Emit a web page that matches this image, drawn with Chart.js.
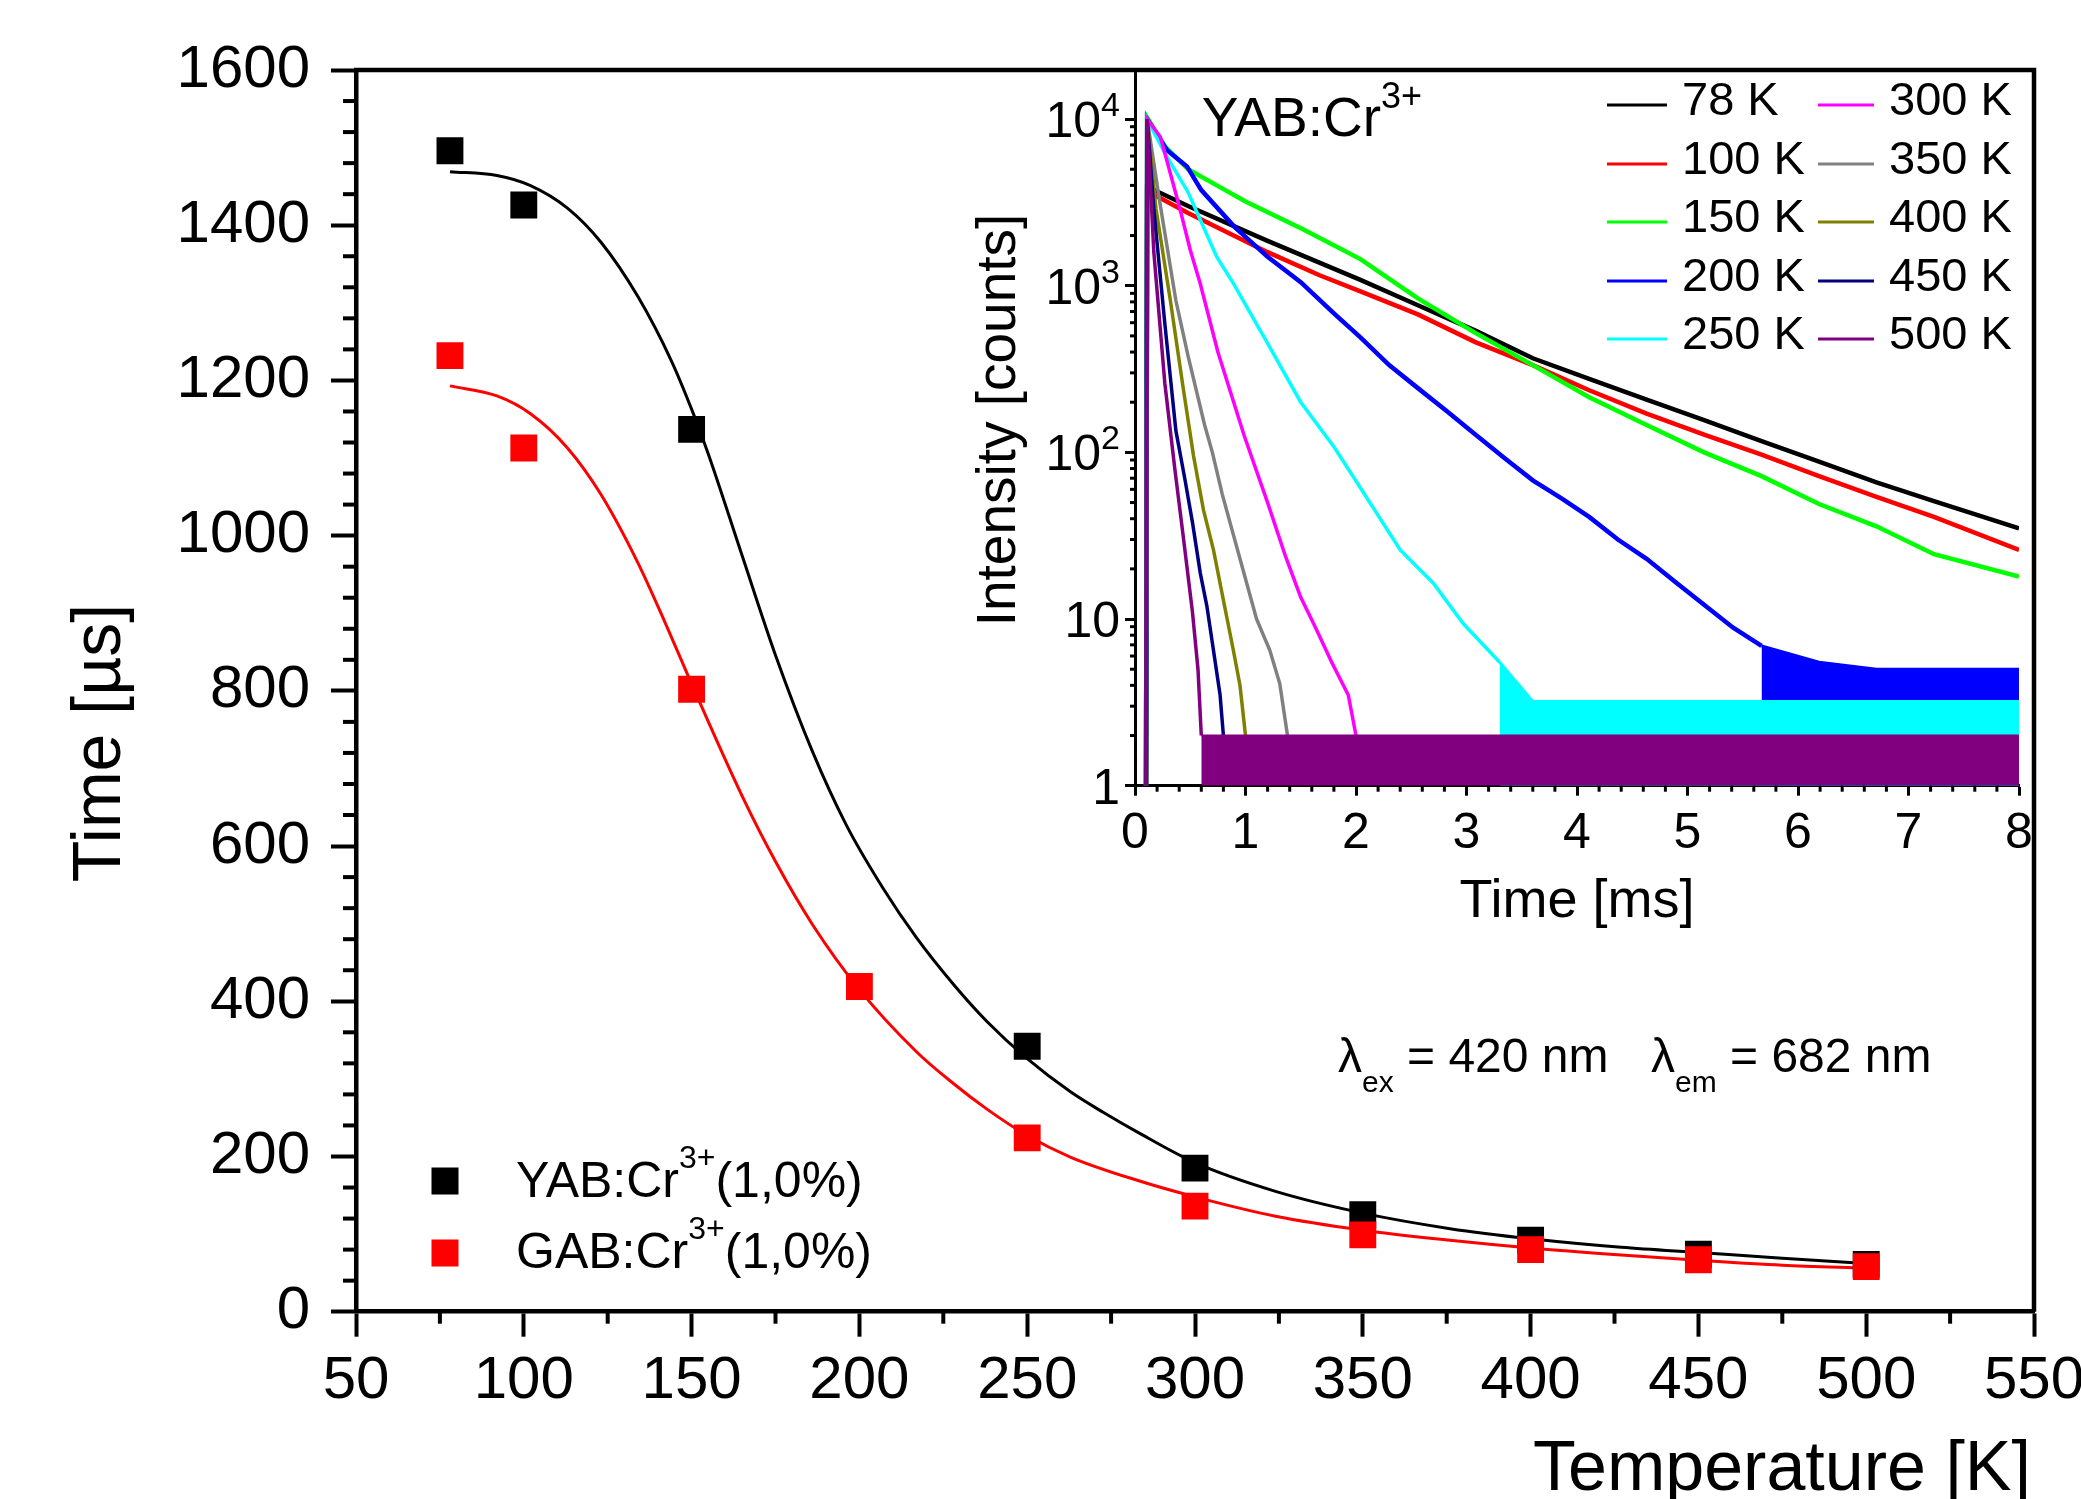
<!DOCTYPE html>
<html><head><meta charset="utf-8">
<script src="https://cdn.jsdelivr.net/npm/chart.js@4/dist/chart.umd.min.js"></script>
<style>
html,body{margin:0;padding:0;background:#fff;}
#wrap{position:relative;width:2081px;height:1499px;overflow:hidden;background:#fff;}
#main{position:absolute;left:0;top:0;}
#inset{position:absolute;left:900px;top:60px;}
</style></head><body>
<div id="wrap"><canvas id="main" width="2081" height="1499"></canvas><canvas id="inset" width="1181" height="900"></canvas></div>
<script>
// ---------------- main chart data ----------------
const temps  = [78, 100, 150, 200, 250, 300, 350, 400, 450, 500];
const yabTau = [1496, 1426, 1137, null, 342, 185, 125, 92, 74, 61];
const gabTau = [1232, 1113, 802, 419, 224, 136, 99, 80, 67, 58];
const yabFitT = [78, 92, 102, 113, 123, 134, 144, 150, 155, 165, 175, 186, 196, 207, 217, 228, 238, 250, 263, 273, 283, 300, 324, 350, 376, 400, 427, 451, 475, 500];
const yabFitV = [1469, 1464, 1451, 1422, 1378, 1308, 1225, 1163, 1105, 975, 846, 722, 628, 546, 482, 422, 374, 326, 283, 256, 231, 192, 155, 127, 107, 94, 83, 76, 69, 62];
const gabFitT = [78, 92, 102, 113, 123, 134, 142, 150, 165, 175, 186, 200, 217, 228, 238, 250, 263, 283, 300, 324, 350, 376, 400, 427, 451, 475, 500];
const gabFitV = [1193, 1180, 1157, 1113, 1053, 965, 889, 809, 665, 580, 499, 415, 335, 294, 261, 227, 199, 169, 148, 123, 105, 92, 82, 73, 66, 60, 56];
const xTickStep = 50, yTickStep = 200;

// ---------------- inset data (time ms, counts) ----------------
const t78  = [0.10, 0.11, 0.13, 0.48, 1.20, 2.04, 2.56, 3.08, 3.60, 4.11, 4.63, 5.15, 5.67, 6.19, 6.71, 7.23, 8.00];
const c78  = [1, 3900, 3870, 3010, 1860, 1085, 764, 538, 367, 276, 207, 156, 117, 88, 66, 51, 35];
const t100 = [0.10, 0.11, 0.13, 0.48, 1.20, 1.67, 2.04, 2.56, 3.08, 3.60, 4.11, 4.63, 5.15, 5.67, 6.19, 6.71, 7.23, 8.00];
const c100 = [1, 3700, 3640, 2730, 1590, 1156, 925, 673, 459, 334, 236, 171, 128, 97, 72, 54, 41, 26];
const t150 = [0.10, 0.11, 0.27, 0.48, 0.74, 1.00, 1.52, 2.04, 2.56, 3.08, 3.60, 4.11, 4.63, 5.15, 5.67, 6.19, 6.71, 7.23, 8.00];
const c150 = [1, 10200, 6870, 5000, 4000, 3200, 2180, 1445, 840, 521, 334, 214, 146, 100, 72, 49, 36, 24.5, 18];
const t200 = [0.10, 0.11, 0.29, 0.47, 0.60, 0.90, 1.20, 1.50, 1.80, 2.04, 2.30, 2.56, 2.82, 3.08, 3.34, 3.60, 3.86, 4.11, 4.37, 4.63, 4.89, 5.15, 5.41, 5.67];
const c200 = [1, 10000, 6500, 5200, 3750, 2255, 1490, 1050, 682, 490, 334, 243, 177, 128, 93, 68, 53, 41, 30, 23, 16.7, 12.2, 8.9, 6.9];
const t200tail = [5.67, 6.19, 6.71, 8.00];
const c200tail = [6.9, 5.5, 5, 5];
const t250 = [0.10, 0.11, 0.27, 0.48, 0.74, 0.89, 1.20, 1.50, 1.80, 2.07, 2.40, 2.70, 2.97, 3.30];
const c250 = [1, 10000, 6250, 3640, 1490, 1033, 451, 200, 108, 57, 26, 16.4, 9.4, 5.5];
const t250tail = [3.30, 3.60, 8.00];
const c250tail = [5.5, 3.2, 3.2];
const t300 = [0.10, 0.11, 0.23, 0.32, 0.41, 0.50, 0.59, 0.75, 0.99, 1.20, 1.36, 1.50, 1.63, 1.78, 1.93, 2.00];
const c300 = [1, 10000, 7800, 4720, 2840, 1640, 1030, 400, 125, 50, 24, 13.5, 9, 5.5, 3.5, 2];
const t350 = [0.10, 0.11, 0.22, 0.37, 0.48, 0.63, 0.70, 0.79, 0.95, 1.10, 1.22, 1.31, 1.38];
const c350 = [1, 10000, 3300, 815, 380, 146, 100, 56, 23, 10, 6.5, 4.1, 2];
const t400 = [0.10, 0.11, 0.19, 0.32, 0.43, 0.53, 0.62, 0.71, 0.80, 0.89, 0.95, 1.00];
const c400 = [1, 10000, 2900, 815, 259, 95, 45, 26, 13, 6.5, 4, 2];
const t450 = [0.10, 0.11, 0.17, 0.27, 0.37, 0.45, 0.52, 0.59, 0.65, 0.71, 0.77, 0.80];
const c450 = [1, 10000, 2900, 593, 135, 70, 38, 19, 12, 6.5, 3.5, 2];
const t500 = [0.10, 0.11, 0.17, 0.27, 0.36, 0.44, 0.52, 0.57, 0.60];
const c500 = [1, 10000, 1600, 260, 80, 30, 11, 5, 2];
const tFloor = [0.60, 8.00];
const cFloor = [2, 2];

const insetLabels = ['78 K', '100 K', '150 K', '200 K', '250 K', '300 K', '350 K', '400 K', '450 K', '500 K'];
const insetColors = ['#000000', '#ff0000', '#00ff00', '#0000ff', '#00ffff', '#ff00ff', '#808080', '#808000', '#000080', '#800080'];
const insetYTicks = [1, 10, 100, 1000, 10000];
const insetYTickLabels = [['1', ''], ['10', ''], ['10', '2'], ['10', '3'], ['10', '4']];

const FONT = "'Liberation Sans', Arial, Helvetica, sans-serif";
Chart.defaults.font.family = FONT;

const pts = (xs, ys) => xs.map((x, i) => ({ x: x, y: ys[i] })).filter(p => p.y !== null);

function seg(ctx, x1, y1, x2, y2) { ctx.beginPath(); ctx.moveTo(x1, y1); ctx.lineTo(x2, y2); ctx.stroke(); }
function richText(ctx, x, y, parts) {
  let cx = x;
  for (const p of parts) {
    ctx.font = p.size + 'px ' + FONT;
    ctx.fillText(p.text, cx, y + (p.dy || 0));
    cx += ctx.measureText(p.text).width;
  }
  return cx;
}
function richWidth(ctx, parts) {
  let w = 0;
  for (const p of parts) { ctx.font = p.size + 'px ' + FONT; w += ctx.measureText(p.text).width; }
  return w;
}

// ---------------- main chart ----------------
const mainDecor = {
  id: 'mainDecor',
  afterDraw(chart) {
    const ctx = chart.ctx, a = chart.chartArea, xs = chart.scales.x, ys = chart.scales.y;
    ctx.save();
    ctx.strokeStyle = '#000'; ctx.fillStyle = '#000';
    ctx.lineWidth = 4.5; ctx.lineJoin = 'miter';
    ctx.beginPath(); ctx.moveTo(a.left - 2, a.top); ctx.lineTo(a.right, a.top); ctx.lineTo(a.right, a.bottom); ctx.stroke();
    ctx.lineWidth = 4;
    for (let v = xs.min + xTickStep / 2; v < xs.max; v += xTickStep) {
      const px = xs.getPixelForValue(v); seg(ctx, px, a.bottom, px, a.bottom + 12);
    }
    for (let i = 1; i < 40; i++) {
      if (i % 5 === 0) continue;
      const py = ys.getPixelForValue(i * 40); seg(ctx, a.left - 13, py, a.left, py);
    }
    // axis titles
    ctx.textBaseline = 'alphabetic';
    ctx.font = '68px ' + FONT; ctx.textAlign = 'center';
    ctx.save(); ctx.translate(120, 743); ctx.rotate(-Math.PI / 2); ctx.fillText('Time [µs]', 0, 0); ctx.restore();
    ctx.font = '70px ' + FONT; ctx.textAlign = 'right';
    ctx.fillText('Temperature [K]', 2031, 1490);
    // legend
    ctx.textAlign = 'left';
    ctx.fillStyle = '#000'; ctx.fillRect(431.5, 1167.5, 27, 27);
    ctx.fillStyle = '#ff0000'; ctx.fillRect(431.5, 1239.5, 27, 27);
    ctx.fillStyle = '#000';
    richText(ctx, 516, 1197, [{ text: 'YAB:Cr', size: 50 }, { text: '3+', size: 32, dy: -29 }, { text: '(1,0%)', size: 50 }]);
    richText(ctx, 516, 1268, [{ text: 'GAB:Cr', size: 50 }, { text: '3+', size: 32, dy: -29 }, { text: '(1,0%)', size: 50 }]);
    // wavelengths
    richText(ctx, 1338, 1072, [{ text: 'λ', size: 48 }, { text: 'ex', size: 30, dy: 20 }, { text: ' = 420 nm', size: 48 }]);
    richText(ctx, 1651, 1072, [{ text: 'λ', size: 48 }, { text: 'em', size: 30, dy: 20 }, { text: ' = 682 nm', size: 48 }]);
    ctx.restore();
  }
};

new Chart(document.getElementById('main'), {
  type: 'line',
  data: {
    datasets: [
      { label: 'YAB fit', data: pts(yabFitT, yabFitV), showLine: true, borderColor: '#000', borderWidth: 3, pointRadius: 0, cubicInterpolationMode: 'monotone', fill: false, order: 4 },
      { label: 'GAB fit', data: pts(gabFitT, gabFitV), showLine: true, borderColor: '#ff0000', borderWidth: 3, pointRadius: 0, cubicInterpolationMode: 'monotone', fill: false, order: 3 },
      { label: 'YAB:Cr3+(1,0%)', data: pts(temps, yabTau), showLine: false, pointStyle: 'rect', pointRadius: 19, pointBackgroundColor: '#000', pointBorderWidth: 0, borderColor: '#000', order: 2 },
      { label: 'GAB:Cr3+(1,0%)', data: pts(temps, gabTau), showLine: false, pointStyle: 'rect', pointRadius: 19, pointBackgroundColor: '#ff0000', pointBorderWidth: 0, borderColor: '#ff0000', order: 1 }
    ]
  },
  options: {
    responsive: false, animation: false, devicePixelRatio: 1,
    layout: { padding: { left: 0, top: 70, right: 47, bottom: 0 } },
    plugins: { legend: { display: false }, tooltip: { enabled: false } },
    scales: {
      x: {
        type: 'linear', position: 'bottom', min: 50, max: 550,
        ticks: { stepSize: xTickStep, autoSkip: false, maxRotation: 0, color: '#000', font: { size: 60, family: FONT }, padding: 9, callback: v => String(v) },
        grid: { drawOnChartArea: false, drawTicks: true, tickLength: 25, tickWidth: 4, tickColor: '#000' },
        border: { display: true, color: '#000', width: 4.5 },
        afterFit(s) { s.height = 187.3; s.paddingLeft = 0; s.paddingRight = 0; }
      },
      y: {
        type: 'linear', position: 'left', min: 0, max: 1600,
        ticks: { stepSize: yTickStep, autoSkip: false, color: '#000', font: { size: 60, family: FONT }, padding: 21, callback: v => String(v) },
        grid: { drawOnChartArea: false, drawTicks: true, tickLength: 25, tickWidth: 4, tickColor: '#000' },
        border: { display: true, color: '#000', width: 4.5 },
        afterFit(s) { s.width = 356; s.paddingTop = 0; s.paddingBottom = 0; }
      }
    }
  },
  plugins: [mainDecor]
});

// ---------------- inset chart ----------------
const insetDecor = {
  id: 'insetDecor',
  afterDraw(chart) {
    const ctx = chart.ctx, a = chart.chartArea, xs = chart.scales.x, ys = chart.scales.y;
    ctx.save();
    ctx.strokeStyle = '#000'; ctx.fillStyle = '#000'; ctx.lineWidth = 3;
    for (let i = 1; i < 40; i++) {
      if (i % 5 === 0) continue;
      const px = xs.getPixelForValue(i * 0.2); seg(ctx, px, a.bottom, px, a.bottom + 6);
    }
    for (const d of [1, 10, 100, 1000, 10000]) {
      for (let m = 2; m <= 9; m++) {
        const v = m * d; if (v > ys.max) break;
        const py = ys.getPixelForValue(v); seg(ctx, a.left - 5, py, a.left, py);
      }
    }
    // y tick labels with superscripts
    ctx.textBaseline = 'alphabetic'; ctx.textAlign = 'left';
    insetYTicks.forEach((v, i) => {
      const py = ys.getPixelForValue(v);
      const parts = [{ text: insetYTickLabels[i][0], size: 50, dy: 18 }];
      if (insetYTickLabels[i][1]) parts.push({ text: insetYTickLabels[i][1], size: 34, dy: -3 });
      const w = richWidth(ctx, parts);
      richText(ctx, 220 - w, py, parts);
    });
    // titles
    ctx.textAlign = 'center';
    ctx.font = '54px ' + FONT;
    ctx.fillText('Time [ms]', (a.left + a.right) / 2, 857);
    ctx.font = '55px ' + FONT;
    ctx.save(); ctx.translate(115, 360); ctx.rotate(-Math.PI / 2); ctx.fillText('Intensity [counts]', 0, 0); ctx.restore();
    ctx.textAlign = 'left';
    richText(ctx, 301.7, 76, [{ text: 'YAB:Cr', size: 55 }, { text: '3+', size: 36, dy: -28 }]);
    // legend (2 columns x 5 rows)
    const rows = [45, 104, 162, 221, 279];
    ctx.font = '47px ' + FONT;
    insetLabels.forEach((lab, i) => {
      const col = Math.floor(i / 5), r = i % 5;
      const x1 = col === 0 ? 707 : 918, x2 = col === 0 ? 767 : 974, tx = col === 0 ? 782 : 989;
      ctx.strokeStyle = insetColors[i]; ctx.lineWidth = 3;
      seg(ctx, x1, rows[r], x2, rows[r]);
      ctx.fillStyle = '#000';
      ctx.fillText(lab, tx, rows[r] + 10);
    });
    ctx.restore();
  }
};

const insetSeries = [[t78, c78], [t100, c100], [t150, c150], [t200, c200], [t250, c250], [t300, c300], [t350, c350], [t400, c400], [t450, c450], [t500, c500]];
const insetDatasets = insetSeries.map((s, i) => ({
  label: insetLabels[i], data: pts(s[0], s[1]), showLine: true, borderColor: insetColors[i],
  borderWidth: i < 4 ? 4.5 : 3.5, pointRadius: 0, tension: 0, fill: false, order: 20 - i
}));
insetDatasets.push({ label: '200 K noise', data: pts(t200tail, c200tail), showLine: true, borderColor: insetColors[3], backgroundColor: insetColors[3], borderWidth: 3, pointRadius: 0, tension: 0, fill: 'start', order: 3 });
insetDatasets.push({ label: '250 K noise', data: pts(t250tail, c250tail), showLine: true, borderColor: insetColors[4], backgroundColor: insetColors[4], borderWidth: 3, pointRadius: 0, tension: 0, fill: 'start', order: 2 });
insetDatasets.push({ label: 'noise floor', data: pts(tFloor, cFloor), showLine: true, borderColor: insetColors[9], backgroundColor: insetColors[9], borderWidth: 2, pointRadius: 0, tension: 0, fill: 'start', order: 1 });

new Chart(document.getElementById('inset'), {
  type: 'line',
  data: { datasets: insetDatasets },
  options: {
    responsive: false, animation: false, devicePixelRatio: 1,
    layout: { padding: { left: 0, top: 10, right: 62, bottom: 0 } },
    plugins: { legend: { display: false }, tooltip: { enabled: false } },
    scales: {
      x: {
        type: 'linear', position: 'bottom', min: 0, max: 8,
        ticks: { stepSize: 1, autoSkip: false, maxRotation: 0, color: '#000', font: { size: 50, family: FONT }, padding: 9, callback: v => String(v) },
        grid: { drawOnChartArea: false, drawTicks: true, tickLength: 10, tickWidth: 3, tickColor: '#000' },
        border: { display: true, color: '#000', width: 3 },
        afterFit(s) { s.height = 174.3; s.paddingLeft = 0; s.paddingRight = 0; }
      },
      y: {
        type: 'logarithmic', position: 'left', min: 1, max: 19700,
        afterBuildTicks(s) { s.ticks = insetYTicks.map(v => ({ value: v })); },
        ticks: { callback: () => '', color: '#000' },
        grid: { drawOnChartArea: false, drawTicks: true, tickLength: 10, tickWidth: 3, tickColor: '#000' },
        border: { display: true, color: '#000', width: 3 },
        afterFit(s) { s.width = 235; s.paddingTop = 0; s.paddingBottom = 0; }
      }
    }
  },
  plugins: [insetDecor]
});
</script></body></html>
